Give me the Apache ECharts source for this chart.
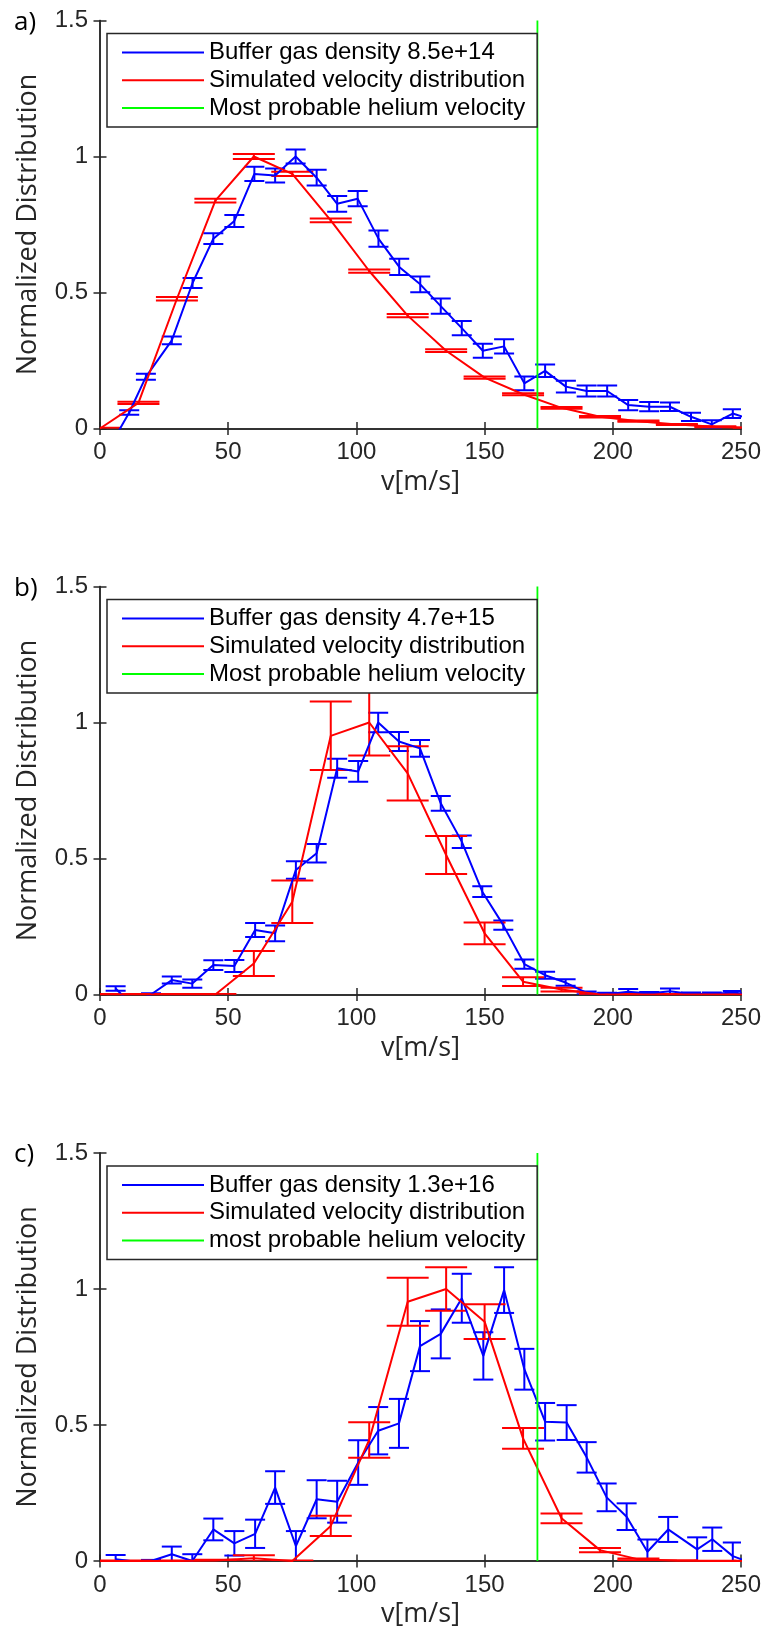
<!DOCTYPE html>
<html>
<head>
<meta charset="utf-8">
<script src="https://cdn.jsdelivr.net/npm/echarts@6/dist/echarts.min.js"></script>
<style>
  html, body { margin: 0; padding: 0; background: #fff; }
  #chart { width: 766px; height: 1634px; }
</style>
</head>
<body>
<div id="chart"></div>
<script>
const vHelium = 170.6;

// a) 8.5e+14
const vBlueA = [3, 11.4, 17.9, 28.0, 36.1, 44.2, 52.4, 60.2, 68.3, 76.3, 84.5, 92.5, 100.5, 108.6, 116.7, 124.9,
  132.9, 141.1, 149.3, 157.6, 165.5, 173.6, 181.7, 189.8, 197.8, 206.0, 214.2, 222.3, 230.5, 238.6, 246.8, 254.9];
const blueA = [-0.08, 0.059, 0.19, 0.324, 0.535, 0.698, 0.763, 0.936, 0.93, 1.0, 0.922, 0.826, 0.845, 0.698, 0.594, 0.53,
  0.45, 0.369, 0.286, 0.302, 0.166, 0.212, 0.154, 0.138, 0.138, 0.086, 0.08, 0.08, 0.043, 0.015, 0.055, 0.03];
const errBlueA = [0, 0.008, 0.011, 0.014, 0.018, 0.02, 0.022, 0.026, 0.026, 0.026, 0.029, 0.029, 0.028, 0.03, 0.03, 0.029,
  0.028, 0.026, 0.026, 0.026, 0.025, 0.023, 0.022, 0.02, 0.02, 0.019, 0.017, 0.016, 0.015, 0.015, 0.016, 0];

// b) 4.7e+15
const vBlueB = [6.1, 11.9, 19.9, 28.0, 36.0, 44.2, 52.4, 60.5, 68.3, 76.4, 84.5, 92.5, 100.7, 108.5, 116.6, 124.8,
  132.9, 141.1, 149.1, 157.3, 165.5, 173.6, 181.6, 189.8, 197.8, 206.0, 214.2, 222.3, 230.5, 238.6, 246.8, 254.9];
const blueB = [0.022, -0.033, 0.0, 0.053, 0.04, 0.108, 0.105, 0.237, 0.225, 0.458, 0.519, 0.832, 0.82, 1.0, 0.93, 0.905,
  0.703, 0.562, 0.378, 0.255, 0.112, 0.071, 0.044, 0.006, 0.001, 0.01, 0.004, 0.012, 0.002, 0.002, 0.007, 0.0];
const errBlueB = [0.008, 0, 0.005, 0.013, 0.015, 0.018, 0.022, 0.026, 0.029, 0.032, 0.034, 0.035, 0.038, 0.036, 0.035, 0.031,
  0.027, 0.023, 0.02, 0.017, 0.017, 0.013, 0.012, 0.005, 0.005, 0.01, 0.005, 0.01, 0.005, 0.005, 0.006, 0];

// c) 1.3e+16
const vBlueC = [6.1, 11.9, 19.9, 28.0, 36.0, 44.2, 52.4, 60.5, 68.3, 76.4, 84.5, 92.5, 100.7, 108.5, 116.6, 124.8,
  132.9, 141.1, 149.5, 157.6, 165.5, 173.6, 182.0, 189.8, 197.6, 205.4, 213.5, 221.6, 232.9, 238.8, 246.8, 254.9];
const blueC = [0.006, 0, 0, 0.025, 0, 0.116, 0.065, 0.1, 0.27, 0.055, 0.227, 0.218, 0.362, 0.479, 0.506, 0.79,
  0.835, 0.966, 0.754, 0.996, 0.705, 0.512, 0.509, 0.381, 0.234, 0.163, 0.034, 0.116, 0.043, 0.08, 0.018, -0.01];
const errBlueC = [0.016, 0, 0.004, 0.028, 0.025, 0.04, 0.045, 0.052, 0.06, 0.055, 0.07, 0.077, 0.082, 0.087, 0.09, 0.092,
  0.09, 0.09, 0.087, 0.084, 0.075, 0.069, 0.064, 0.056, 0.051, 0.049, 0.045, 0.046, 0.044, 0.043, 0.05, 0];

// simulated distributions (same velocity grid in all panels)
const vRed = [0, 15, 30, 45, 60, 75, 90, 105, 120, 135, 150, 165, 180, 195, 210, 225, 240, 255];
const redA = [0, 0.094, 0.477, 0.838, 1.0, 0.936, 0.765, 0.579, 0.415, 0.286, 0.187, 0.126, 0.076, 0.043, 0.027, 0.015, 0.006, 0.002];
const errRedA = [0.003, 0.004, 0.006, 0.007, 0.009, 0.008, 0.007, 0.006, 0.006, 0.005, 0.004, 0.004, 0.003, 0.003, 0.002, 0.002, 0.002, 0.001];
const redB = [0, 0, 0, 0, 0.114, 0.341, 0.951, 1.0, 0.813, 0.513, 0.225, 0.047, 0.018, 0, 0, 0, 0, 0];
const errRedB = [0.002, 0.002, 0.002, 0.002, 0.046, 0.078, 0.126, 0.121, 0.1, 0.07, 0.04, 0.016, 0.007, 0.002, 0.002, 0.002, 0.002, 0.002];
const redC = [0, 0, 0, 0.002, 0.01, 0, 0.129, 0.445, 0.953, 1.0, 0.88, 0.451, 0.157, 0.04, 0.006, 0.001, 0, 0];
const errRedC = [0.002, 0.002, 0.002, 0.003, 0.011, 0.002, 0.037, 0.065, 0.088, 0.08, 0.064, 0.038, 0.018, 0.008, 0.003, 0.002, 0.001, 0.001];

const redName = 'Simulated velocity distribution';

const panels = [
  { tag: 'a)', top: 20.5, blueName: 'Buffer gas density 8.5e+14', heName: 'Most probable helium velocity',
    vBlue: vBlueA, blue: blueA, errBlue: errBlueA, red: redA, errRed: errRedA },
  { tag: 'b)', top: 586.5, blueName: 'Buffer gas density 4.7e+15', heName: 'Most probable helium velocity',
    vBlue: vBlueB, blue: blueB, errBlue: errBlueB, red: redB, errRed: errRedB },
  { tag: 'c)', top: 1153, blueName: 'Buffer gas density 1.3e+16', heName: 'most probable helium velocity',
    vBlue: vBlueC, blue: blueC, errBlue: errBlueC, red: redC, errRed: errRedC }
];

const axisColor = '#262626';
const tickFont = 'Liberation Sans';
const titleFont = 'Open Sans';

// error bars: vertical stem plus two caps
function errorBars(half) {
  return function (params, api) {
    const e = api.value(2);
    if (!(e > 0)) return null;
    const x = api.value(0), y = api.value(1);
    const lo = api.coord([x, y - e]);
    const hi = api.coord([x, y + e]);
    const style = { stroke: api.visual('color'), lineWidth: 2 };
    return {
      type: 'group',
      children: [
        { type: 'line', shape: { x1: lo[0], y1: lo[1], x2: hi[0], y2: hi[1] }, style: style },
        { type: 'line', shape: { x1: lo[0] - half, y1: lo[1], x2: lo[0] + half, y2: lo[1] }, style: style },
        { type: 'line', shape: { x1: hi[0] - half, y1: hi[1], x2: hi[0] + half, y2: hi[1] }, style: style }
      ]
    };
  };
}

const grid = [], xAxis = [], yAxis = [], series = [], legend = [], graphic = [];

panels.forEach(function (p, i) {
  grid.push({ left: 100, top: p.top, width: 641, height: 408 });

  const axLine = { show: true, lineStyle: { color: axisColor, width: 1.5 } };
  const tick = { show: true, inside: true, length: 6.5, lineStyle: { color: axisColor, width: 1.5 } };

  xAxis.push({
    gridIndex: i, type: 'value', position: 'bottom', min: 0, max: 250, interval: 50,
    axisLine: axLine, axisTick: tick, splitLine: { show: false },
    axisLabel: { margin: 12, fontFamily: tickFont, fontSize: 24, color: axisColor },
    name: 'v[m/s]', nameLocation: 'middle', nameGap: 40,
    nameTextStyle: { fontFamily: titleFont, fontSize: 27, color: axisColor }
  });
  xAxis.push({
    gridIndex: i, type: 'value', position: 'top', min: 0, max: 250, interval: 50,
    axisLine: axLine, axisTick: tick, axisLabel: { show: false }, splitLine: { show: false }
  });
  yAxis.push({
    gridIndex: i, type: 'value', position: 'left', min: 0, max: 1.5, interval: 0.5,
    axisLine: axLine, axisTick: tick, splitLine: { show: false },
    axisLabel: { margin: 12, fontFamily: tickFont, fontSize: 24, color: axisColor },
    name: 'Normalized Distribution', nameLocation: 'middle', nameGap: 58,
    nameTextStyle: { fontFamily: titleFont, fontSize: 27, color: axisColor }
  });
  yAxis.push({
    gridIndex: i, type: 'value', position: 'right', min: 0, max: 1.5, interval: 0.5,
    axisLine: axLine, axisTick: tick, axisLabel: { show: false }, splitLine: { show: false }
  });

  const xi = 2 * i, yi = 2 * i;
  series.push({
    name: p.blueName, type: 'line', xAxisIndex: xi, yAxisIndex: yi,
    data: p.vBlue.map(function (v, k) { return [v, p.blue[k]]; }),
    symbol: 'none', color: '#0000ff', lineStyle: { width: 2 }, clip: true
  });
  series.push({
    name: p.blueName, type: 'custom', xAxisIndex: xi, yAxisIndex: yi,
    data: p.vBlue.map(function (v, k) { return [v, p.blue[k], p.errBlue[k]]; }),
    encode: { x: 0, y: 1 }, renderItem: errorBars(10), itemStyle: { color: '#0000ff' }, clip: true
  });
  series.push({
    name: redName, type: 'line', xAxisIndex: xi, yAxisIndex: yi,
    data: vRed.map(function (v, k) { return [v, p.red[k]]; }),
    symbol: 'none', color: '#ff0000', lineStyle: { width: 2 }, clip: true
  });
  series.push({
    name: redName, type: 'custom', xAxisIndex: xi, yAxisIndex: yi,
    data: vRed.map(function (v, k) { return [v, p.red[k], p.errRed[k]]; }),
    encode: { x: 0, y: 1 }, renderItem: errorBars(21), itemStyle: { color: '#ff0000' }, clip: true
  });
  series.push({
    name: p.heName, type: 'line', xAxisIndex: xi, yAxisIndex: yi,
    data: [[vHelium, 0], [vHelium, 1.5]],
    symbol: 'none', color: '#00ff00', lineStyle: { width: 1.8 }
  });

  legend.push({
    data: [p.blueName, redName, p.heName],
    left: 107, top: p.top + 13, orient: 'vertical',
    icon: 'rect', itemWidth: 82, itemHeight: 2, itemGap: 3.7,
    padding: [7, 12, 7, 15],
    backgroundColor: '#fff', borderColor: axisColor, borderWidth: 1.5, borderRadius: 0,
    selectedMode: false,
    textStyle: { fontFamily: tickFont, fontSize: 24, lineHeight: 24, color: '#000' }
  });

  graphic.push({
    type: 'text', x: 14, y: p.top + 2,
    style: { text: p.tag, font: '26px "Open Sans"', fill: '#000', verticalAlign: 'middle' }
  });
});

const chart = echarts.init(document.getElementById('chart'));
chart.setOption({
  animation: false,
  backgroundColor: '#fff',
  grid: grid,
  xAxis: xAxis,
  yAxis: yAxis,
  legend: legend,
  graphic: graphic,
  series: series
});
</script>
</body>
</html>
